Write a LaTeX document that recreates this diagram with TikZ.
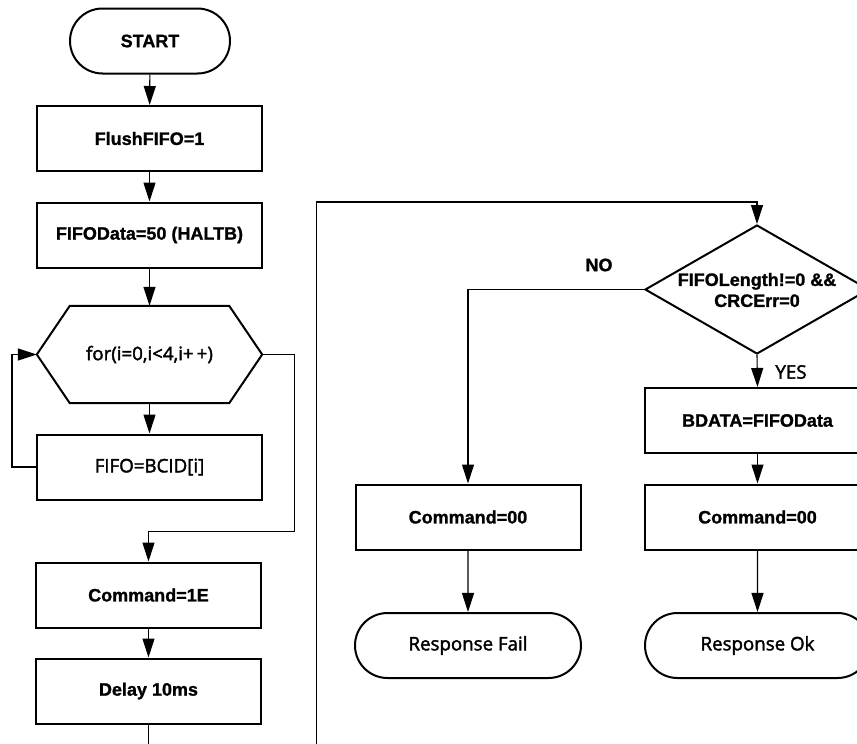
\documentclass[tikz,border=0pt]{standalone}
\usepackage{fontspec}
\setmainfont{Liberation Sans}[BoldFeatures={FakeBold=1.2}]
\newfontfamily\kfont[AutoFakeBold=2]{Open Sans}
\usetikzlibrary{shapes.geometric,shapes.misc,arrows.meta,calc}

\begin{document}
\begin{tikzpicture}[x=1pt,y=-1pt,
  every node/.style={font=\fontsize{18}{21}\selectfont\bfseries},
  box/.style={draw, line width=2pt, rectangle, minimum width=225pt, minimum height=65pt, inner sep=0pt},
  term/.style={draw, line width=2pt, rounded rectangle, minimum height=65pt, inner sep=0pt},
  kor/.style={font=\kfont\fontsize{18.7}{21}\selectfont\bfseries},
  conn/.style={line width=1.1pt},
  arr/.style={conn, -{Triangle[width=12pt,length=19pt]}}
]
\clip (0,0) rectangle (857,744);

% left column: initialisation and BCID loop
\node[term, minimum width=160pt] (start) at (150,41) {START};
\node[box] (flush) at (149.5,138.5) {FlushFIFO=1};
\node[box] (fdata) at (149.5,235) {FIFOData=50 (HALTB)};
\node[minimum width=225pt, minimum height=97pt, inner sep=0pt, kor] (loop) at (149.5,354.5) {for(i=0,i<4,i+\,+)};
\draw[line width=2pt] (loop.west) -- ($(loop.north west)+(33,0)$) -- ($(loop.north east)+(-33,0)$)
  -- (loop.east) -- ($(loop.south east)+(-33,0)$) -- ($(loop.south west)+(33,0)$) -- cycle;
\node[box, kor] (bcid) at (149.5,467) {FIFO=BCID[i]};
\node[box] (cmd1e) at (148.5,595) {Command=1E};
\node[box] (delay) at (148.5,691) {Delay 10ms};

% right column: response check
\node[draw, diamond, line width=2pt, minimum width=224pt, minimum height=129pt, inner sep=0pt] (cond) at (757,289.5) {};
\node[align=center, inner sep=0pt] (condtxt) at (757,290) {FIFOLength!=0 \&\&\\CRCErr=0};
\node[box] (bdata) at (757.5,420.5) {BDATA=FIFOData};
\node[box] (cmdok) at (757.5,517) {Command=00};
\node[term, minimum width=225pt, kor] (rok) at (757.5,645.5) {Response Ok};
\node[box] (cmdfail) at (468,517) {Command=00};
\node[term, minimum width=226pt, kor] (rfail) at (468,645.5) {Response Fail};

\node (no) at (599,265) {NO};
\node[kor] (yes) at (791,372) {YES};

% connectors
\draw[arr] (start) -- (flush);
\draw[arr] (flush) -- (fdata);
\draw[arr] (fdata) -- (loop);
\draw[arr] (loop) -- (bcid);
\draw[arr] (bcid.west) -- ++(-24,0) |- (loop.west);
\draw[arr] (loop.east) -- ++(32,0) -- ++(0,177) -| (cmd1e.north);
\draw[arr] (cmd1e) -- (delay);
\coordinate (bot) at (148.5,750);
\draw[conn] (delay.south) -- (bot);
\coordinate (ret) at (316.5,750);
\coordinate (top) at (316.5,202);
\draw[arr] (ret) -- (top) -| (cond.north);
\draw[arr] (cond.west) -| (cmdfail.north);
\draw[arr] (cond.south) -- (bdata.north);
\draw[arr] (bdata) -- (cmdok);
\draw[arr] (cmdfail) -- (rfail);
\draw[arr] (cmdok) -- (rok);
\end{tikzpicture}
\end{document}
